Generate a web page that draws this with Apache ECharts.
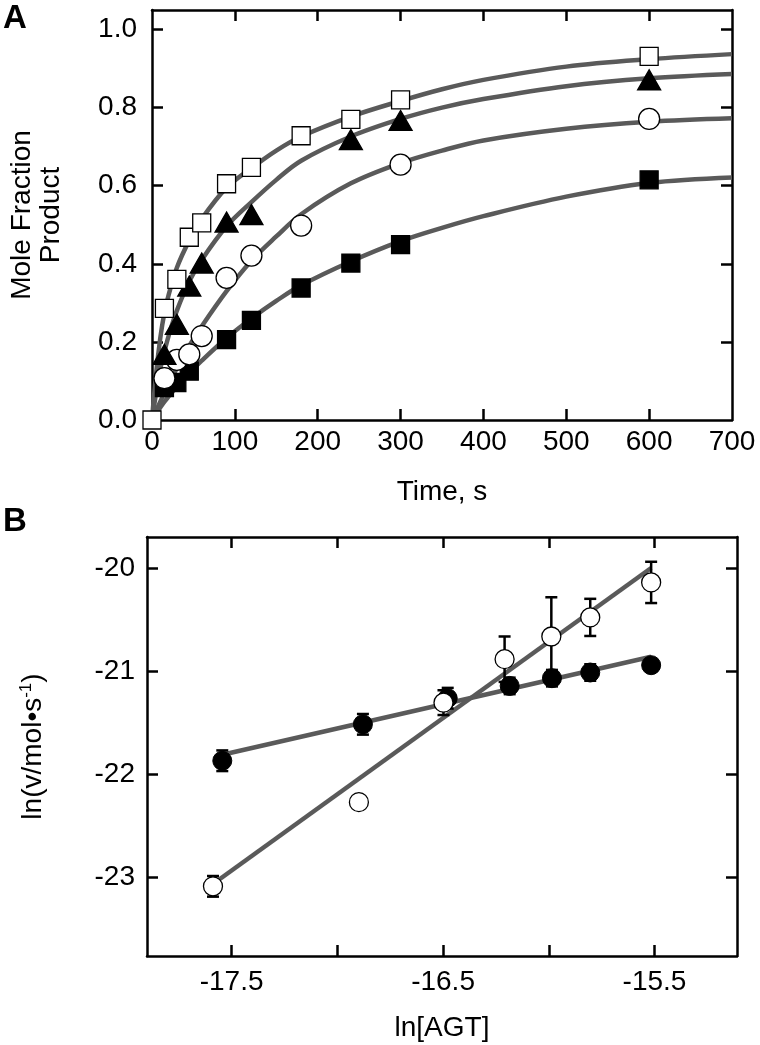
<!DOCTYPE html>
<html>
<head>
<meta charset="utf-8">
<script src="https://cdn.jsdelivr.net/npm/echarts@6/dist/echarts.min.js"></script>
<style>
html,body{margin:0;padding:0;background:#fff;}
#chart{width:760px;height:1045px;}
</style>
</head>
<body>
<div id="chart"></div>
<script>
// ---------- Panel A data (Time, s vs mole fraction product) ----------
const sqOpenT  = [0, 15, 30, 45, 60, 90, 120, 180, 240, 300, 600];
const sqOpenY  = [0, 0.286, 0.36, 0.468, 0.505, 0.605, 0.647, 0.728, 0.77, 0.82, 0.931];
const triT     = [15, 30, 45, 60, 90, 120, 240, 300, 600];
const triY     = [0.168, 0.245, 0.343, 0.402, 0.507, 0.526, 0.718, 0.767, 0.871];
const circT    = [15, 30, 45, 60, 90, 120, 180, 300, 600];
const circY    = [0.107, 0.154, 0.168, 0.215, 0.364, 0.421, 0.498, 0.654, 0.771];
const sqFillT  = [15, 30, 45, 90, 120, 180, 240, 300, 600];
const sqFillY  = [0.083, 0.096, 0.125, 0.206, 0.255, 0.338, 0.402, 0.449, 0.615];

// fitted curves
const fitT        = [0, 5, 10, 15, 20, 30, 45, 60, 90, 120, 150, 180, 240, 300, 350, 400, 500, 600, 700];
const fitSqOpenY  = [0, 0.12, 0.21, 0.275, 0.32, 0.39, 0.46, 0.515, 0.595, 0.645, 0.69, 0.726, 0.777, 0.817, 0.847, 0.871, 0.905, 0.924, 0.937];
const fitTriY     = [0, 0.07, 0.13, 0.175, 0.215, 0.28, 0.355, 0.41, 0.496, 0.558, 0.615, 0.664, 0.726, 0.771, 0.80, 0.822, 0.855, 0.875, 0.886];
const fitCircY    = [0, 0.024, 0.047, 0.07, 0.092, 0.133, 0.19, 0.24, 0.33, 0.408, 0.47, 0.527, 0.606, 0.658, 0.69, 0.716, 0.746, 0.764, 0.773];
const fitSqFillY  = [0, 0.016, 0.032, 0.047, 0.06, 0.085, 0.12, 0.152, 0.21, 0.26, 0.305, 0.345, 0.406, 0.458, 0.492, 0.522, 0.572, 0.607, 0.621];

const xTicksA = [0, 100, 200, 300, 400, 500, 600, 700];
const yTicksA = [0, 0.2, 0.4, 0.6, 0.8, 1.0];

// ---------- Panel B data (ln[AGT] vs ln v) ----------
const lnAgtFilled = [-17.544, -16.879, -16.478, -16.185, -15.985, -15.804, -15.516];
const lnVFilled   = [-21.868, -21.515, -21.262, -21.143, -21.068, -21.013, -20.942];
const errFilled   = [0.10, 0.10, 0.10, 0.08, 0.08, 0.08, 0.06];
const lnAgtOpen   = [-17.588, -16.898, -16.498, -16.209, -15.988, -15.804, -15.516];
const lnVOpen     = [-23.085, -22.269, -21.305, -20.884, -20.664, -20.479, -20.140];
const errOpen     = [0.10, 0.0, 0.12, 0.22, 0.38, 0.18, 0.20];

const fitFilledX = [-17.544, -15.516];
const fitFilledY = [-21.81, -20.86];
const fitOpenX   = [-17.58, -15.516];
const fitOpenY   = [-23.05, -20.0];

const xLabelsB = [-17.5, -16.5, -15.5];
const xTicksB  = [-17.5, -17, -16.5, -16, -15.5];
const yTicksB  = [-23, -22, -21, -20];

// ---------- build ----------
const FONT = "'Liberation Sans', Arial, Helvetica, sans-serif";
const LINE = '#5a5a5a';
const zip = (a, b) => a.map((v, i) => [v, b[i]]);
const zip3 = (a, b, c) => a.map((v, i) => [v, b[i], c[i]]);

const axisLine = {show: true, onZero: false, lineStyle: {color: '#000', width: 2.5}};
const tick = (vals) => ({show: true, inside: true, length: 11, lineStyle: {color: '#000', width: 2.5}, customValues: vals});
const labelStyle = {color: '#000', fontFamily: FONT, fontSize: 28};
const nameStyle = {color: '#000', fontFamily: FONT, fontSize: 28};

const chart = echarts.init(document.getElementById('chart'), null, {renderer: 'canvas'});

function errorBars(data) {
  return {
    type: 'custom', xAxisIndex: 2, yAxisIndex: 2, z: 3,
    data: data, silent: true,
    renderItem: function (params, api) {
      const x = api.value(0), y = api.value(1), e = api.value(2);
      if (!e) return null;
      const top = api.coord([x, y + e]);
      const bot = api.coord([x, y - e]);
      const w = 6;
      const st = {stroke: '#000', lineWidth: 2.5};
      return {type: 'group', children: [
        {type: 'line', shape: {x1: top[0], y1: top[1], x2: bot[0], y2: bot[1]}, style: st},
        {type: 'line', shape: {x1: top[0] - w, y1: top[1], x2: top[0] + w, y2: top[1]}, style: st},
        {type: 'line', shape: {x1: bot[0] - w, y1: bot[1], x2: bot[0] + w, y2: bot[1]}, style: st}
      ]};
    }
  };
}

function fitLine(x, y) {
  return {type: 'line', xAxisIndex: 0, yAxisIndex: 0, data: zip(x, y), smooth: 0.35,
          showSymbol: false, lineStyle: {color: LINE, width: 4.5}, z: 2, silent: true};
}
function pts(x, y, symbol, size, fill, z) {
  return {type: 'scatter', xAxisIndex: 0, yAxisIndex: 0, data: zip(x, y), symbol: symbol, symbolSize: size,
          itemStyle: {color: fill, borderColor: '#000', borderWidth: 1.3, opacity: 1}, z: z, silent: true};
}

const option = {
  animation: false,
  backgroundColor: '#fff',
  graphic: [
    {type: 'text', left: 3, top: 2, style: {text: 'A', font: 'bold 33px ' + FONT, fill: '#000'}},
    {type: 'text', left: 3, top: 505, style: {text: 'B', font: 'bold 33px ' + FONT, fill: '#000'}}
  ],
  grid: [
    {left: 145, top: 10, width: 587, height: 410},
    {left: 147, top: 537, width: 590, height: 419}
  ],
  xAxis: [
    {type: 'value', gridIndex: 0, min: 0, max: 700, position: 'bottom',
     axisLine: axisLine, axisTick: tick([100, 200, 300, 400, 500, 600]),
     axisLabel: {...labelStyle, margin: 8, customValues: xTicksA, formatter: v => String(v)},
     splitLine: {show: false},
     name: 'Time, s', nameLocation: 'middle', nameGap: 58, nameTextStyle: nameStyle},
    {type: 'value', gridIndex: 0, min: 0, max: 700, position: 'top',
     axisLine: axisLine, axisTick: tick([100, 200, 300, 400, 500, 600]),
     axisLabel: {show: false}, splitLine: {show: false}},
    {type: 'value', gridIndex: 1, min: -17.9, max: -15.11, position: 'bottom',
     axisLine: axisLine, axisTick: tick(xTicksB),
     axisLabel: {...labelStyle, margin: 12, customValues: xLabelsB, formatter: v => v.toFixed(1)},
     splitLine: {show: false},
     name: 'ln[AGT]', nameLocation: 'middle', nameGap: 58, nameTextStyle: nameStyle},
    {type: 'value', gridIndex: 1, min: -17.9, max: -15.11, position: 'top',
     axisLine: axisLine, axisTick: tick(xTicksB),
     axisLabel: {show: false}, splitLine: {show: false}}
  ],
  yAxis: [
    {type: 'value', gridIndex: 0, min: 0, max: 1.05, position: 'left',
     axisLine: axisLine, axisTick: tick([0.2, 0.4, 0.6, 0.8, 1.0]),
     axisLabel: {...labelStyle, margin: 15, customValues: yTicksA, formatter: v => v.toFixed(1)},
     splitLine: {show: false},
     name: 'Mole Fraction\nProduct', nameLocation: 'middle', nameRotate: 90, nameGap: 86,
     nameTextStyle: {...nameStyle, lineHeight: 29}},
    {type: 'value', gridIndex: 0, min: 0, max: 1.05, position: 'right',
     axisLine: axisLine, axisTick: tick([0.2, 0.4, 0.6, 0.8, 1.0]),
     axisLabel: {show: false}, splitLine: {show: false}},
    {type: 'value', gridIndex: 1, min: -23.76, max: -19.7, position: 'left',
     axisLine: axisLine, axisTick: tick(yTicksB),
     axisLabel: {...labelStyle, margin: 12, customValues: yTicksB, formatter: v => String(v)},
     splitLine: {show: false},
     name: 'ln(v/mol•s{sup|-1})', nameLocation: 'middle', nameRotate: 90, nameGap: 98,
     nameTextStyle: {...nameStyle, rich: {sup: {fontFamily: FONT, fontSize: 17, color: '#000', verticalAlign: 'top', padding: [0, 0, 14, 0]}}}},
    {type: 'value', gridIndex: 1, min: -23.76, max: -19.7, position: 'right',
     axisLine: axisLine, axisTick: tick(yTicksB),
     axisLabel: {show: false}, splitLine: {show: false}}
  ],
  series: [
    // Panel A fits
    fitLine(fitT, fitSqFillY),
    fitLine(fitT, fitCircY),
    fitLine(fitT, fitTriY),
    fitLine(fitT, fitSqOpenY),
    // Panel A points
    pts(sqFillT, sqFillY, 'rect', 18, '#000', 5),
    pts(circT, circY, 'circle', 21, '#fff', 5),
    pts(triT, triY, 'triangle', [23, 20], '#000', 5),
    pts(sqOpenT, sqOpenY, 'rect', 18, '#fff', 6),
    // Panel B fits
    {type: 'line', xAxisIndex: 2, yAxisIndex: 2, data: zip(fitFilledX, fitFilledY), showSymbol: false, lineStyle: {color: LINE, width: 4.5}, z: 2, silent: true},
    {type: 'line', xAxisIndex: 2, yAxisIndex: 2, data: zip(fitOpenX, fitOpenY), showSymbol: false, lineStyle: {color: LINE, width: 4.5}, z: 2, silent: true},
    // error bars
    errorBars(zip3(lnAgtFilled, lnVFilled, errFilled)),
    errorBars(zip3(lnAgtOpen, lnVOpen, errOpen)),
    // Panel B points
    {type: 'scatter', xAxisIndex: 2, yAxisIndex: 2, data: zip(lnAgtFilled, lnVFilled), symbol: 'circle', symbolSize: 19,
     itemStyle: {color: '#000', borderColor: '#000', borderWidth: 1, opacity: 1}, z: 5, silent: true},
    {type: 'scatter', xAxisIndex: 2, yAxisIndex: 2, data: zip(lnAgtOpen, lnVOpen), symbol: 'circle', symbolSize: 19,
     itemStyle: {color: '#fff', borderColor: '#000', borderWidth: 1.3, opacity: 1}, z: 6, silent: true}
  ]
};
chart.setOption(option);
</script>
</body>
</html>
